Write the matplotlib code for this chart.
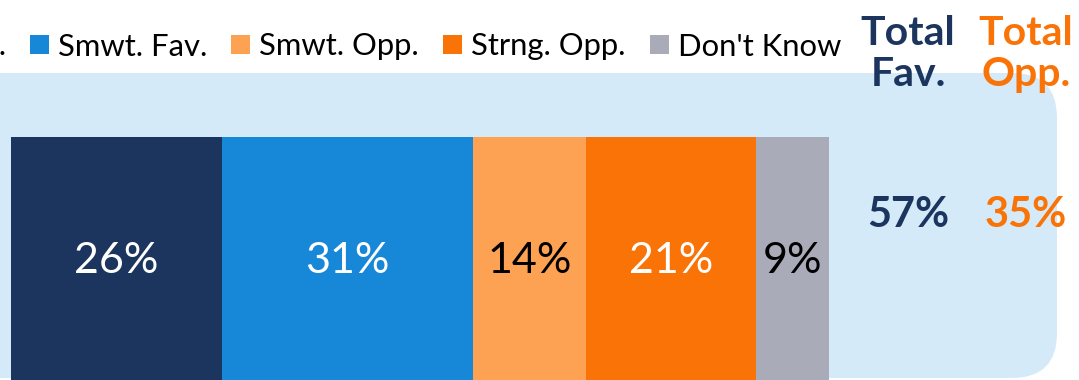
import matplotlib
matplotlib.use("Agg")
import matplotlib.pyplot as plt
from matplotlib.patches import FancyBboxPatch, Rectangle
import numpy as np

# Survey responses (percent)
categories = ["Strng. Fav.", "Smwt. Fav.", "Smwt. Opp.", "Strng. Opp.", "Don't Know"]
values = [26, 31, 14, 21, 9]
colors = ["#1C355E", "#1787D8", "#FDA253", "#F97306", "#A9ACB8"]
label_colors = ["white", "white", "black", "white", "black"]
total_fav = values[0] + values[1]
total_opp = values[2] + values[3]

NAVY = "#1C355E"
ORANGE = "#F97306"
BOX = "#D4EAF9"

plt.rcParams["font.family"] = ["Lato", "DejaVu Sans"]

W, H = 1079, 380
fig = plt.figure(figsize=(W / 100, H / 100), dpi=100)

# Background layer in pixel units
bg = fig.add_axes([0, 0, 1, 1])
bg.set_xlim(0, W)
bg.set_ylim(H, 0)
bg.axis("off")

box = FancyBboxPatch((-80, 73), 1057 + 80, 378 - 73,
                     boxstyle="round,pad=0,rounding_size=45",
                     facecolor=BOX, edgecolor="none", zorder=0)
bg.add_patch(box)

# Bar layer: x in percent, y in pixels
px_per_pct = 8.1
x0_px = 11
ax = fig.add_axes([0, 0, 1, 1], zorder=1)
ax.set_xlim(-x0_px / px_per_pct, (W - x0_px) / px_per_pct)
ax.set_ylim(H, 0)
ax.axis("off")
ax.patch.set_alpha(0)

bar_top, bar_h = 137, 400
lefts = np.concatenate([[0], np.cumsum(values)[:-1]])
ax.barh(bar_top + bar_h / 2, values, left=lefts, height=bar_h,
        color=colors, edgecolor="none")
for v, l, c in zip(values, lefts, label_colors):
    ax.text(l + v / 2, 261, f"{v}%", ha="center", va="center",
            fontsize=31, color=c)

# Totals column
text_ax = fig.add_axes([0, 0, 1, 1], zorder=2)
text_ax.set_xlim(0, W)
text_ax.set_ylim(H, 0)
text_ax.axis("off")
text_ax.patch.set_alpha(0)
for xc, head, val, col in [(908, "Total\nFav.", total_fav, NAVY),
                            (1026, "Total\nOpp.", total_opp, ORANGE)]:
    text_ax.text(xc, 86, head, ha="center", va="baseline", fontsize=29.5,
                 fontweight="bold", color=col, linespacing=1.12)
    text_ax.text(xc, 215, f"{val}%", ha="center", va="center", fontsize=30,
                 fontweight="bold", color=col)

# Legend row of squares and labels
fig.canvas.draw()
renderer = fig.canvas.get_renderer()
leg_y = 44
sq = 19
gap_text = 9
gap_item = 24
fs_leg = 22.3


def text_width(s):
    t = text_ax.text(0, 0, s, fontsize=fs_leg)
    w = t.get_window_extent(renderer).width
    t.remove()
    return w


x = 30
positions = []
for cat in categories[1:]:
    positions.append(x)
    x += sq + gap_text + text_width(cat) + gap_item
first_x = 30 - gap_item - text_width(categories[0]) - gap_text - sq
positions = [first_x] + positions

for cat, col, px in zip(categories, colors, positions):
    text_ax.add_patch(Rectangle((px, leg_y - sq / 2), sq, sq,
                                facecolor=col, edgecolor="none"))
    text_ax.text(px + sq + gap_text, leg_y, cat, ha="left", va="center_baseline",
                 fontsize=fs_leg, color="black")

fig.savefig("out.png", dpi=100)
